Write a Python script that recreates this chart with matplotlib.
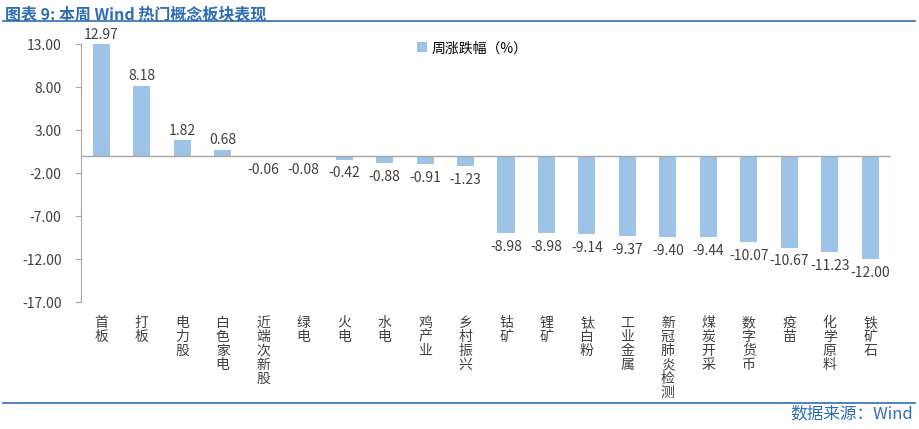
import matplotlib.pyplot as plt
import numpy as np

plt.rcParams['font.family'] = ['Noto Sans CJK SC', 'DejaVu Sans']

categories = ["首板", "打板", "电力股", "白色家电", "近端次新股", "绿电", "火电", "水电", "鸡产业", "乡村振兴",
              "钴矿", "锂矿", "钛白粉", "工业金属", "新冠肺炎检测", "煤炭开采", "数字货币", "疫苗", "化学原料", "铁矿石"]
values = [12.97, 8.18, 1.82, 0.68, -0.06, -0.08, -0.42, -0.88, -0.91, -1.23,
          -8.98, -8.98, -9.14, -9.37, -9.40, -9.44, -10.07, -10.67, -11.23, -12.00]
yticks = [13, 8, 3, -2, -7, -12, -17]

bar_color = "#9DC3E6"
blue = "#2E6DB4"

fig = plt.figure(figsize=(9.2, 4.29), dpi=100)
ax = fig.add_axes([0.088, 0.296, 0.88, 0.601])

x = np.arange(len(categories))
ax.bar(x, values, width=0.42, color=bar_color, label="周涨跌幅（%）", zorder=2)

for xi, v in zip(x, values):
    if v >= 0:
        ax.text(xi, v + 0.3, f"{v:.2f}", ha="center", va="bottom", fontsize=10, color="#404040")
    else:
        ax.text(xi, v - 0.8, f"{v:.2f}", ha="center", va="top", fontsize=10, color="#404040")

ax.set_xlim(-0.5, len(categories) - 0.5)
ax.set_ylim(-17, 13)
ax.set_yticks(yticks)
ax.set_yticklabels([f"{t:.2f}" for t in yticks], fontsize=10, color="#404040")
ax.axhline(0, color="#A6A6A6", lw=1, zorder=3)

for s in ["top", "right", "bottom"]:
    ax.spines[s].set_visible(False)
ax.spines["left"].set_color("#A6A6A6")
ax.tick_params(axis="y", length=4, color="#A6A6A6", pad=10)
ax.set_xticks([])

for xi, c in zip(x, categories):
    ax.text(xi, -18.6, "\n".join(c), ha="center", va="top", fontsize=10,
            color="#404040", linespacing=1.0)

ax.legend(loc="upper left", bbox_to_anchor=(0.40, 1.06), frameon=False, fontsize=10,
          handlelength=0.7, handleheight=0.7, handletextpad=0.3)

# title and source with rules
fig.text(0.005, 0.985, "图表 9: 本周 Wind 热门概念板块表现", ha="left", va="top",
         fontsize=11.5, color=blue, fontweight="bold", style="italic")
fig.add_artist(plt.Line2D([0.003, 0.995], [0.951, 0.951], color=blue, lw=1.2))
fig.add_artist(plt.Line2D([0.003, 0.995], [0.061, 0.061], color=blue, lw=1.2))
fig.text(0.993, 0.035, "数据来源：Wind", ha="right", va="center", fontsize=12, color=blue)

fig.savefig("out.png", dpi=100)
